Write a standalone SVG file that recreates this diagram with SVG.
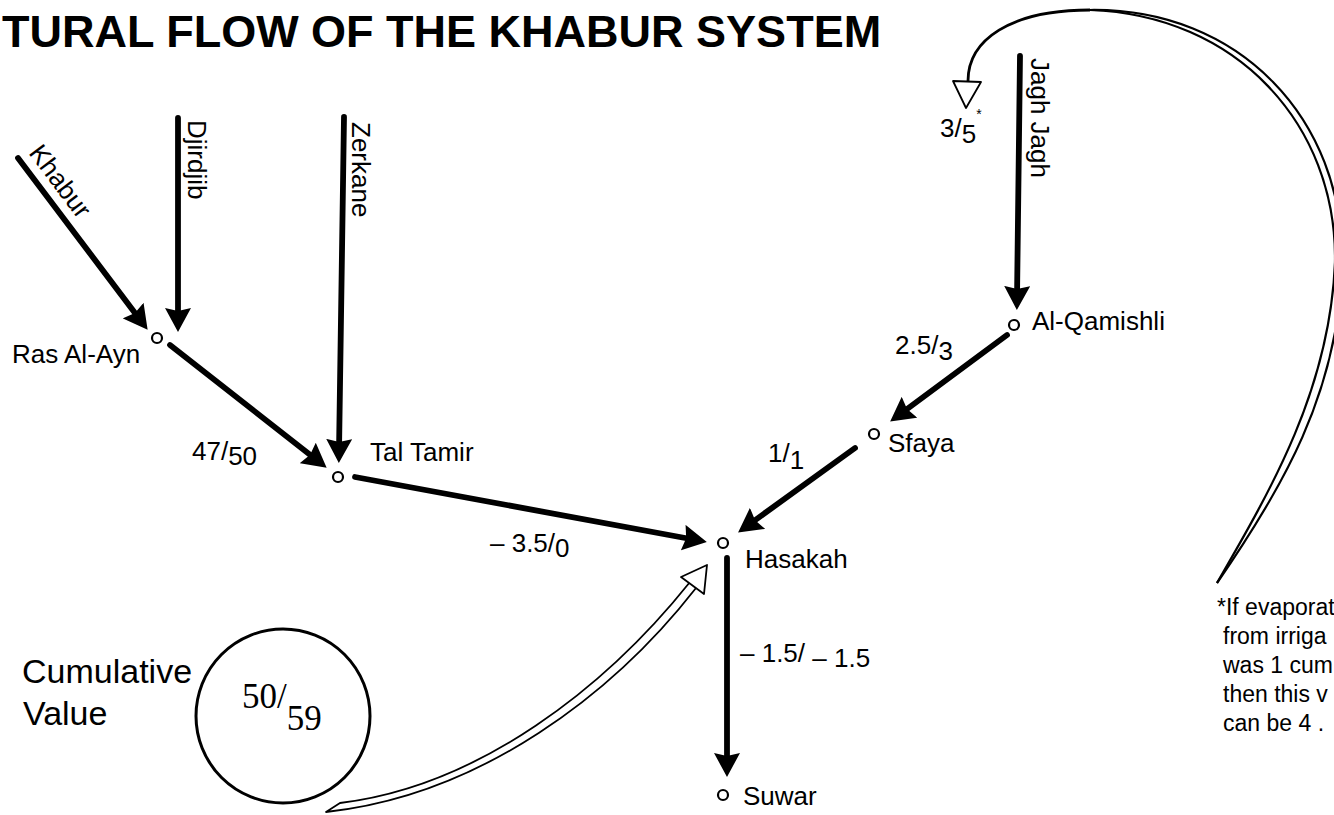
<svg xmlns="http://www.w3.org/2000/svg" width="1334" height="815" viewBox="0 0 1334 815">
<style>
text { font-family: "Liberation Sans", Arial, sans-serif; fill: #000; }
.title { font-weight: bold; font-size: 45px; }
.lbl { font-size: 26px; }
.big { font-size: 34px; }
.serif { font-family: "Liberation Serif", "Times New Roman", serif; font-size: 35px; }
.note { font-size: 23px; }
.flow { stroke: #000; stroke-width: 5.8; fill: none; stroke-linecap: round; marker-end: url(#ah); }
.node { fill: #fff; stroke: #000; stroke-width: 2.2; }
.hollow { fill: #fff; stroke: #000; stroke-width: 1.8; stroke-linejoin: round; }
.edge2 { fill: none; stroke: #000; stroke-width: 2.2; }
</style>
<defs>
<marker id="ah" viewBox="0 0 24 26" refX="13" refY="13" markerWidth="24" markerHeight="26" markerUnits="userSpaceOnUse" orient="auto">
<path d="M0,0 L24,13 L0,26 L3,13 Z" fill="#000"/>
</marker>
</defs>
<rect width="1334" height="815" fill="#fff"/>

<g id="title">
<text class="title" x="2" y="47">TURAL FLOW OF THE KHABUR SYSTEM</text>
</g>

<g id="connectors">
<path class="flow" d="M18,158 L141,321"/>
<path class="flow" d="M178,118 L178,321"/>
<path class="flow" d="M344,117 L339,452"/>
<path class="flow" d="M170,345 L318,461"/>
<path class="flow" d="M355,477 L696,540"/>
<path class="flow" d="M1020,56 L1017,299"/>
<path class="flow" d="M1007,335 L899,415"/>
<path class="flow" d="M855,448 L747,526"/>
<path class="flow" d="M727,558 L727,766"/>
<path class="hollow" d="M340,803 C480,786 606,687 690,582 L696,588 C614,693 482,795 326,812 Z"/>
<path class="hollow" d="M707,565 L681,577 L704,594 Z"/>
<path class="edge2" d="M1217,583 C1280,492 1340,392 1342,262 C1344,120 1240,8 1090,10"/>
<path class="edge2" d="M1217,583 C1272,488 1330,388 1335,262 C1337,124 1236,15 1090,10"/>
<path fill="none" stroke="#000" stroke-width="2.8" d="M1090,10 C1010,10 968,40 968,81"/>
<path class="hollow" stroke-width="2.2" d="M953,81 L981,82 L966,108 Z"/>
</g>

<g id="labels">
<text class="lbl" x="192" y="460">47/<tspan dy="5">50</tspan></text>
<text class="lbl" x="490" y="552">– 3.5/<tspan dy="5">0</tspan></text>
<text class="lbl" x="895" y="354">2.5/<tspan dy="6">3</tspan></text>
<text class="lbl" x="768" y="462">1/<tspan dy="7">1</tspan></text>
<text class="lbl" x="740" y="662">– 1.5/ <tspan dy="5">– 1.5</tspan></text>
<text class="lbl" x="940" y="137">3/<tspan dy="6">5</tspan><tspan font-size="14" dy="-24">*</tspan></text>
</g>

<g id="khabur"><text class="lbl" transform="translate(28,153) rotate(53)">Khabur</text></g>
<g id="djirdjib"><text class="lbl" transform="translate(188,120) rotate(90)">Djirdjib</text></g>
<g id="zerkane"><text class="lbl" transform="translate(352,122) rotate(90)">Zerkane</text></g>
<g id="jagh-jagh"><text class="lbl" transform="translate(1031,58) rotate(90)">Jagh Jagh</text></g>

<g id="ras-al-ayn"><circle class="node" cx="157" cy="338" r="5"/><text class="lbl" x="12" y="363">Ras Al-Ayn</text></g>
<g id="tal-tamir"><circle class="node" cx="338" cy="477" r="5"/><text class="lbl" x="370" y="461">Tal Tamir</text></g>
<g id="hasakah"><circle class="node" cx="723" cy="543" r="5"/><text class="lbl" x="745" y="568">Hasakah</text></g>
<g id="al-qamishli"><circle class="node" cx="1014" cy="325" r="5"/><text class="lbl" x="1032" y="330">Al-Qamishli</text></g>
<g id="sfaya"><circle class="node" cx="874" cy="434" r="5"/><text class="lbl" x="888" y="452">Sfaya</text></g>
<g id="suwar"><circle class="node" cx="723" cy="795" r="5"/><text class="lbl" x="743" y="805">Suwar</text></g>

<g id="cumulative">
<text class="big" x="22" y="683">Cumulative</text>
<text class="big" x="23" y="725">Value</text>
<circle cx="283" cy="716" r="87" fill="none" stroke="#000" stroke-width="3"/>
<text class="serif" x="242" y="708">50/<tspan dy="22">59</tspan></text>
</g>

<g id="footnote">
<text class="note" x="1217" y="615">*If evaporat</text>
<text class="note" x="1223" y="644">from irriga</text>
<text class="note" x="1223" y="673">was 1 cum</text>
<text class="note" x="1223" y="702">then this v</text>
<text class="note" x="1223" y="731">can be 4 .</text>
</g>
</svg>
